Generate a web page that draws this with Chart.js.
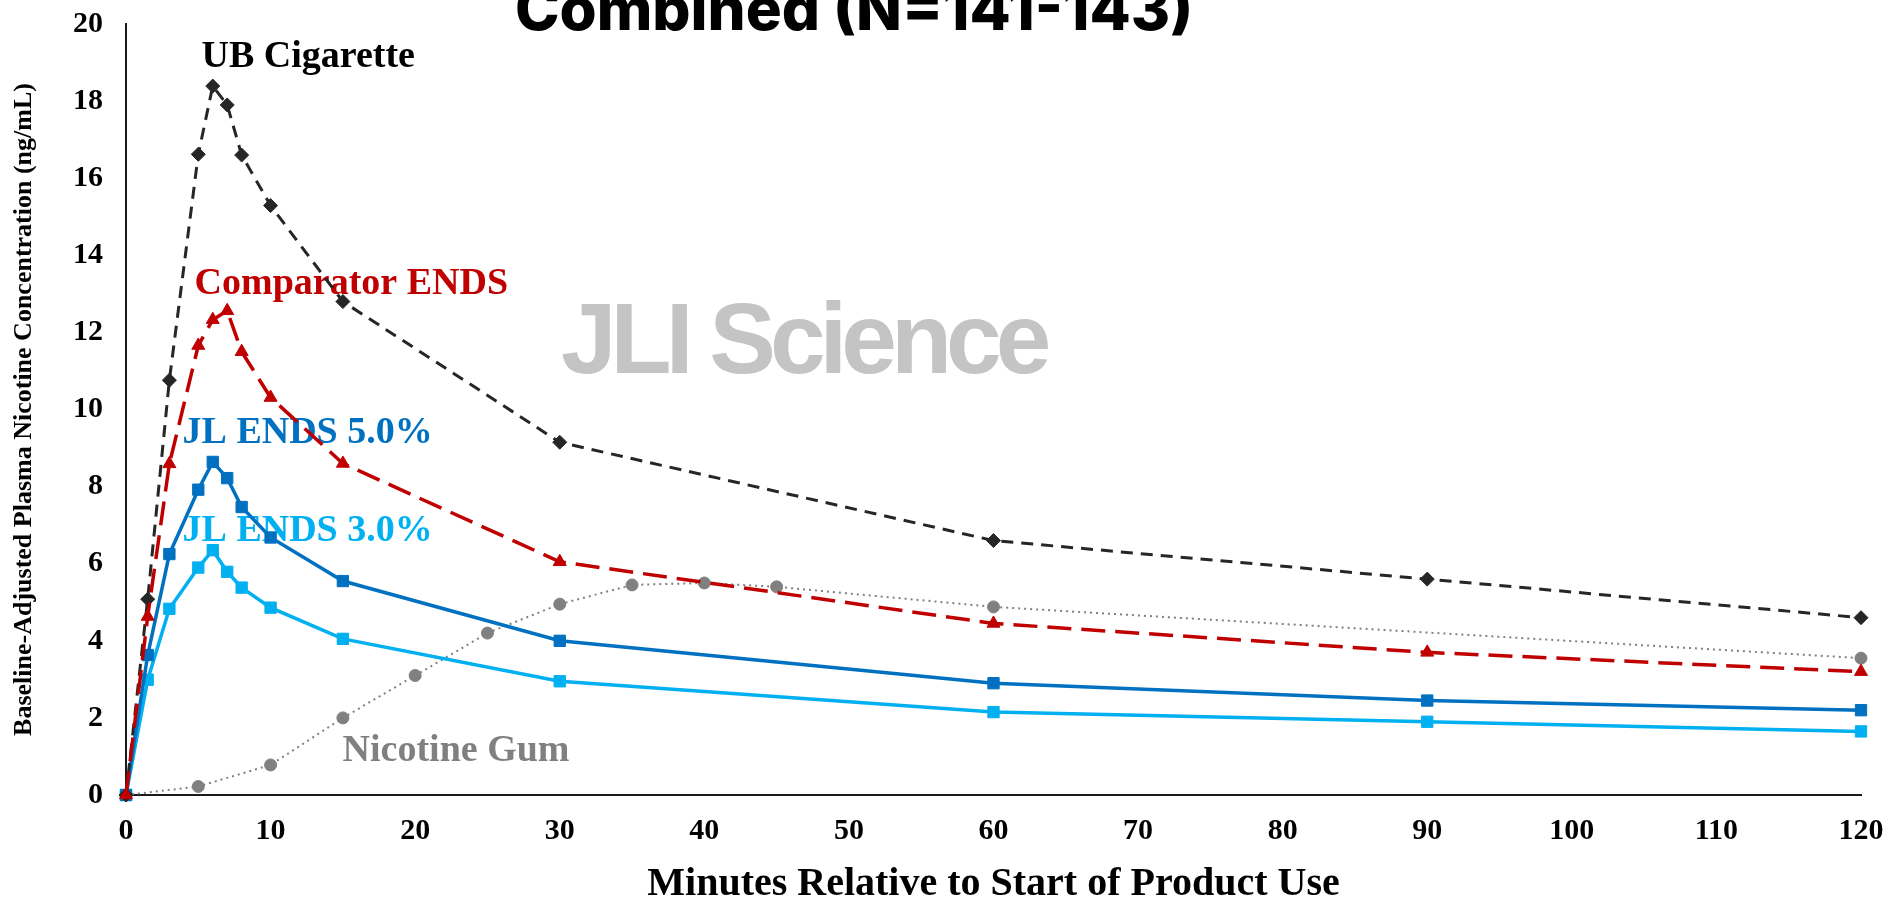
<!DOCTYPE html>
<html>
<head>
<meta charset="utf-8">
<title>Baseline-Adjusted Plasma Nicotine Concentration</title>
<script src="https://cdn.jsdelivr.net/npm/chart.js@4.4.1/dist/chart.umd.min.js"></script>
<style>
  html, body { margin: 0; padding: 0; background: #fff; }
  .wrap { width: 1889px; height: 903px; position: relative; }
</style>
</head>
<body>
<div class="wrap"><canvas id="pk"></canvas></div>
<script>
// sampling times (minutes) for the four ENDS / cigarette arms
const minutes = [0, 1.5, 3, 5, 6, 7, 8, 10, 15, 30, 60, 90, 120];
const ubCigarette = [0, 5.08, 10.76, 16.62, 18.39, 17.9, 16.6, 15.29, 12.8, 9.15, 6.6, 5.6, 4.6];
const comparatorEnds = [0, 4.63, 8.59, 11.66, 12.33, 12.56, 11.5, 10.31, 8.6, 6.05, 4.45, 3.7, 3.2];
const jlEnds5 = [0, 3.63, 6.25, 7.92, 8.64, 8.22, 7.47, 6.68, 5.55, 4.0, 2.9, 2.45, 2.2];
const jlEnds3 = [0, 2.99, 4.83, 5.9, 6.35, 5.79, 5.38, 4.86, 4.05, 2.95, 2.15, 1.9, 1.65];

// gum was sampled on a different schedule
const gumMinutes = [0, 5, 10, 15, 20, 25, 30, 35, 40, 45, 60, 120];
const nicotineGum = [0, 0.22, 0.78, 2.0, 3.1, 4.2, 4.95, 5.45, 5.5, 5.4, 4.88, 3.55];

const xTitle = "Minutes Relative to Start of Product Use";
const yTitle = "Baseline-Adjusted Plasma Nicotine Concentration (ng/mL)";
const chartTitle = "Combined (N=141-143)";
const watermark = "JLI Science";

// in-plot series labels, anchored in data units (minutes, ng/mL)
const seriesLabels = [
  { text: "UB Cigarette", color: "#000000", at: [5.22, 18.88] },
  { text: "Comparator ENDS", color: "#C00000", at: [4.74, 13.0] },
  { text: "JL ENDS 5.0%", color: "#0070C0", at: [3.91, 9.13] },
  { text: "JL ENDS 3.0%", color: "#00B0F0", at: [3.91, 6.59] },
  { text: "Nicotine Gum", color: "#808080", at: [14.98, 0.88] },
];

const SERIF = "'Liberation Serif', 'Times New Roman', serif";

function toPoints(xs, ys) {
  return xs.map((x, i) => ({ x, y: ys[i] }));
}

function series(label, xs, ys, color, style) {
  return Object.assign({
    label,
    data: toPoints(xs, ys),
    borderColor: color,
    backgroundColor: color,
    pointBackgroundColor: color,
    pointBorderColor: color,
    pointBorderWidth: 1,
    borderWidth: 3.5,
    tension: 0,
    clip: false,
    fill: false,
  }, style);
}

const annotations = {
  id: "annotations",
  beforeDatasetsDraw(chart) {
    const { ctx, scales } = chart;
    ctx.save();
    // watermark
    ctx.font = "bold 100px 'Liberation Sans', Arial, sans-serif";
    ctx.letterSpacing = "-6px";
    ctx.fillStyle = "#c4c4c4";
    ctx.textAlign = "left";
    ctx.textBaseline = "alphabetic";
    ctx.fillText(watermark, 561, 373);
    ctx.letterSpacing = "0px";

    ctx.font = "bold 38px " + SERIF;
    seriesLabels.forEach((l) => {
      ctx.fillStyle = l.color;
      ctx.fillText(l.text, scales.x.getPixelForValue(l.at[0]), scales.y.getPixelForValue(l.at[1]));
    });
    ctx.restore();
  },
  afterDraw(chart) {
    // the title sits partly above the top edge, as in the source slide
    const { ctx } = chart;
    ctx.save();
    let size = 56;
    ctx.font = "800 " + size + "px Inter, 'Liberation Sans', sans-serif";
    size = size * 678 / ctx.measureText(chartTitle).width;
    ctx.font = "800 " + size.toFixed(1) + "px Inter, 'Liberation Sans', sans-serif";
    ctx.fillStyle = "#000";
    ctx.textAlign = "center";
    ctx.textBaseline = "alphabetic";
    ctx.fillText(chartTitle, 854, 30);
    ctx.restore();
  },
};

const tickFont = { family: SERIF, size: 30, weight: "bold" };

new Chart(document.getElementById("pk"), {
  type: "line",
  data: {
    datasets: [
      series("Comparator ENDS", minutes, comparatorEnds, "#C00000", {
        borderDash: [24, 10], pointStyle: "triangle", pointRadius: 7.5,
      }),
      series("UB Cigarette", minutes, ubCigarette, "#262626", {
        borderDash: [12, 8], borderWidth: 3, pointStyle: "rectRot", pointRadius: 7,
      }),
      series("JL ENDS 5.0%", minutes, jlEnds5, "#0070C0", {
        pointStyle: "rect", pointRadius: 8,
      }),
      series("JL ENDS 3.0%", minutes, jlEnds3, "#00B0F0", {
        pointStyle: "rect", pointRadius: 8,
      }),
      series("Nicotine Gum", gumMinutes, nicotineGum, "#808080", {
        borderDash: [2, 4], borderWidth: 2, pointStyle: "circle", pointRadius: 6,
      }),
    ],
  },
  options: {
    responsive: true,
    maintainAspectRatio: false,
    animation: false,
    layout: { padding: { top: 24, right: 28, left: 0, bottom: 0 } },
    plugins: {
      legend: { display: false },
      tooltip: { enabled: false },
    },
    scales: {
      x: {
        type: "linear",
        min: 0,
        max: 120,
        ticks: { stepSize: 10, padding: 18, color: "#000", font: tickFont, maxRotation: 0 },
        grid: { display: false, drawTicks: false },
        border: { color: "#1a1a1a", width: 2 },
        title: {
          display: true,
          text: xTitle,
          color: "#000",
          font: { family: SERIF, size: 40, weight: "bold", lineHeight: 0.9 },
          padding: 0,
        },
        afterFit(scale) {
          scale.height = 108;
          scale.paddingLeft = 0;
          scale.paddingRight = 0;
        },
      },
      y: {
        min: 0,
        max: 20,
        ticks: { stepSize: 2, padding: 23, color: "#000", font: tickFont },
        grid: { display: false, drawTicks: false },
        border: { color: "#1a1a1a", width: 2 },
        title: {
          display: true,
          text: yTitle,
          color: "#000",
          font: { family: SERIF, size: 26, weight: "bold", lineHeight: 1.2 },
          padding: { top: 9, bottom: 0 },
        },
        afterFit(scale) {
          scale.width = 126;
          scale.paddingTop = 0;
          scale.paddingBottom = 0;
        },
      },
    },
  },
  plugins: [annotations],
});
</script>
</body>
</html>
